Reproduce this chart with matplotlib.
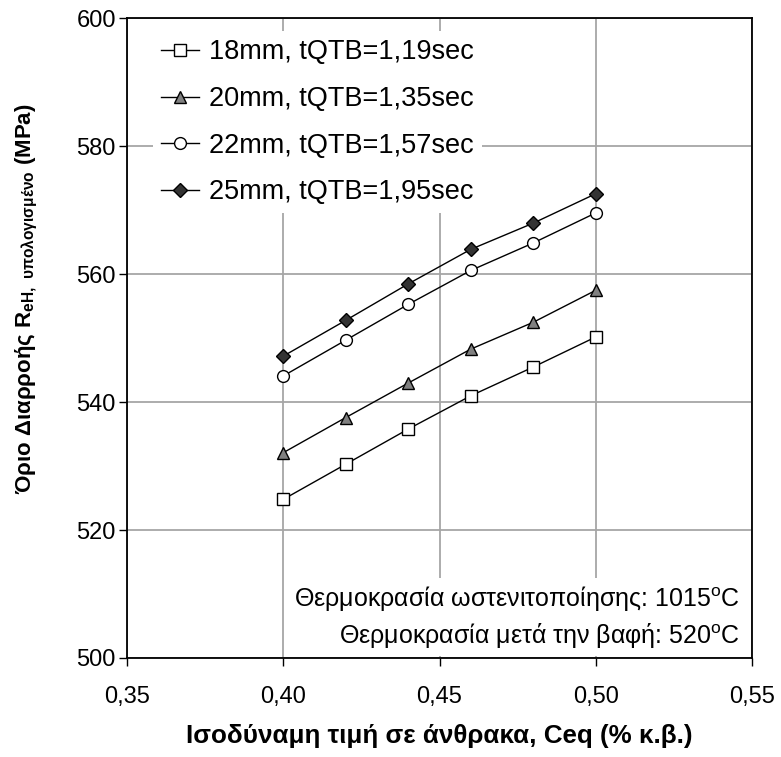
import matplotlib
matplotlib.use("Agg")
import matplotlib.pyplot as plt
from matplotlib.ticker import FuncFormatter, MultipleLocator

plt.rcParams['font.family'] = ['Liberation Sans', 'DejaVu Sans']
plt.rcParams['mathtext.fontset'] = 'custom'
plt.rcParams['mathtext.rm'] = 'Liberation Sans'
plt.rcParams['mathtext.bf'] = 'Liberation Sans:bold'

ceq = [0.40, 0.42, 0.44, 0.46, 0.48, 0.50]
reh_18 = [524.8, 530.3, 535.8, 541.0, 545.5, 550.2]
reh_20 = [532.1, 537.6, 543.0, 548.3, 552.5, 557.5]
reh_22 = [544.1, 549.7, 555.3, 560.6, 564.9, 569.6]
reh_25 = [547.2, 552.8, 558.5, 563.9, 568.0, 572.6]
labels = ['18mm, tQTB=1,19sec', '20mm, tQTB=1,35sec',
          '22mm, tQTB=1,57sec', '25mm, tQTB=1,95sec']

fig = plt.figure(figsize=(7.81, 7.57), dpi=100)
ax = fig.add_axes([0.1626, 0.1308, 0.8004, 0.8448])

ms = 8.5
ax.plot(ceq, reh_18, '-s', color='black', lw=1.0, mfc='white', mec='black', ms=ms, mew=1.0, label=labels[0])
ax.plot(ceq, reh_20, '-^', color='black', lw=1.0, mfc='#808080', mec='black', ms=ms + 0.5, mew=1.0, label=labels[1])
ax.plot(ceq, reh_22, '-o', color='black', lw=1.0, mfc='white', mec='black', ms=ms, mew=1.0, label=labels[2])
ax.plot(ceq, reh_25, '-D', color='black', lw=1.0, mfc='#333333', mec='black', ms=ms - 1.0, mew=1.0, label=labels[3])

ax.set_xlim(0.35, 0.55)
ax.set_ylim(500, 600)
ax.xaxis.set_major_locator(MultipleLocator(0.05))
ax.yaxis.set_major_locator(MultipleLocator(20))
ax.xaxis.set_major_formatter(FuncFormatter(lambda v, p: f"{v:.2f}".replace('.', ',')))
ax.grid(True, color='#a6a6a6', lw=1.3)
ax.set_axisbelow(True)
for s in ax.spines.values():
    s.set_linewidth(1.3)
ax.tick_params(direction='out', length=6, width=1.0, labelsize=17)
ax.tick_params(axis='x', pad=14)
ax.tick_params(axis='y', pad=2)

ax.set_xlabel('Ισοδύναμη τιμή σε άνθρακα, Ceq (% κ.β.)', fontsize=18.7, fontweight='bold', labelpad=12)
ax.set_ylabel('Όριο Διαρροής $\\mathbf{R_{eH,\\ υπολογισμένο}}$ (MPa)',
              fontsize=16, fontweight='bold')
ax.yaxis.set_label_coords(-0.139, 0.5625)

leg = ax.legend(loc='upper left', bbox_to_anchor=(0.02, 1.001), fontsize=19.5,
                frameon=True, framealpha=1.0, edgecolor='none', facecolor='white',
                handlelength=1.4, handletextpad=0.37, labelspacing=0.76,
                borderpad=0.3, fancybox=False)

ax.text(0.98, 0.012, 'Θερμοκρασία ωστενιτοποίησης: 1015$^{\\rm o}$C\nΘερμοκρασία μετά την βαφή: 520$^{\\rm o}$C',
        transform=ax.transAxes, ha='right', va='bottom', fontsize=18, linespacing=1.4,
        multialignment='right',
        bbox=dict(facecolor='white', edgecolor='none', pad=4))

fig.savefig('out.png', dpi=100)
